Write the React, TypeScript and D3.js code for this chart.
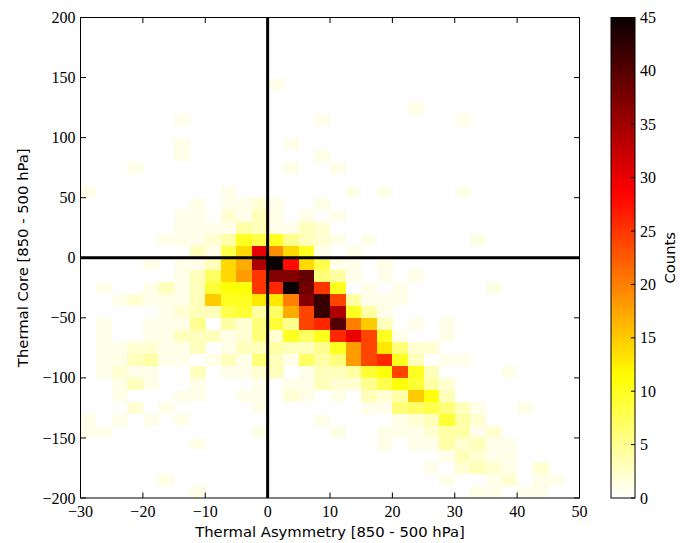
import React from "react";
import * as d3 from "d3";

// ---- data ----
const X_EDGES = d3.range(-30, 50.001, 2.5); // 33 bin edges (Thermal Asymmetry)
const Y_EDGES = d3.range(200, -200.001, -10); // 41 bin edges, top to bottom (Thermal Core)
const X_TICKS = [-30, -20, -10, 0, 10, 20, 30, 40, 50];
const Y_TICKS = [200, 150, 100, 50, 0, -50, -100, -150, -200];
const CB_TICKS = [0, 5, 10, 15, 20, 25, 30, 35, 40, 45];
const CB_MAX = 45;

// counts[row][col]; row 0 = y 200..190, col 0 = x -30..-27.5
const COUNTS: number[][] = [
  [0,0,0,0,0,0,0,0, 0,0,0,0,0,0,0,0, 0,0,0,0,0,0,0,0, 0,0,0,0,0,0,0,0],
  [0,0,0,0,0,0,0,0, 0,0,0,0,0,0,0,0, 0,0,0,0,0,0,0,0, 0,0,0,0,0,0,0,0],
  [0,0,0,0,0,0,0,0, 0,0,0,0,0,0,0,0, 0,0,0,0,0,0,0,0, 0,0,0,0,0,0,0,0],
  [0,0,0,0,0,0,0,0, 0,0,0,0,0,0,0,0, 0,0,0,0,0,0,0,0, 0,0,0,0,0,0,0,0],
  [0,0,0,0,0,0,0,0, 0,0,0,0,0,0,0,0, 0,0,0,0,0,0,0,0, 0,0,0,0,0,0,0,0],
  [0,0,0,0,0,0,0,0, 0,0,0,0,1,0,0,0, 0,0,0,0,0,0,0,0, 0,0,0,0,0,0,0,0],
  [0,0,0,0,0,0,0,0, 0,0,0,0,0,0,0,0, 0,0,0,0,0,0,0,0, 0,0,0,0,0,0,0,0],
  [0,0,0,0,0,0,0,0, 0,0,0,0,0,0,0,0, 0,0,0,0,0,1,0,0, 0,0,0,0,0,0,0,0],
  [0,0,0,0,0,0,1,0, 0,0,0,0,0,0,0,1, 0,0,0,0,0,0,0,0, 1,0,0,0,0,0,0,0],
  [0,0,0,0,0,0,0,0, 0,0,0,0,0,0,0,0, 0,0,0,0,0,0,0,0, 0,0,0,0,0,0,0,0],
  [0,0,0,0,0,0,1,0, 0,0,0,0,0,1,0,0, 0,0,0,0,0,0,0,0, 0,0,0,0,0,0,0,0],
  [0,0,0,0,0,0,1,0, 0,0,0,0,0,0,0,1, 0,0,0,0,0,0,0,0, 0,0,0,0,0,0,0,0],
  [0,0,0,1,0,0,0,0, 0,0,0,0,0,1,0,0, 1,0,0,0,0,0,0,0, 0,0,0,0,0,0,0,0],
  [0,0,0,0,0,0,0,0, 0,0,0,0,0,0,0,0, 0,0,0,0,0,0,0,0, 0,0,0,0,0,0,0,0],
  [1,0,0,0,0,0,0,0, 0,1,0,0,0,0,0,0, 0,1,0,1,0,0,0,0, 1,0,0,0,0,0,0,0],
  [0,0,0,0,0,0,0,1, 0,1,1,2,1,0,0,1, 0,0,0,0,0,0,0,0, 0,0,0,0,0,0,0,0],
  [0,0,0,0,0,0,1,1, 0,2,1,3,1,0,1,0, 1,0,0,0,0,0,0,0, 0,0,0,0,0,0,0,0],
  [0,0,0,0,0,0,1,1, 1,1,4,3,1,1,3,2, 0,0,0,0,0,0,0,0, 0,0,0,0,0,0,0,0],
  [0,0,0,0,0,1,1,1, 2,4,10,8,10,5,3,2, 1,0,1,0,0,0,0,0, 0,1,0,0,0,0,0,0],
  [0,0,0,0,0,0,0,3, 1,8,14,30,19,14,10,1, 0,1,0,0,0,0,0,0, 0,0,0,0,0,0,0,0],
  [0,0,0,0,1,0,1,1, 3,14,17,34,45,28,14,8, 1,1,0,1,0,0,0,0, 0,0,0,0,0,0,0,0],
  [0,0,0,0,0,0,1,3, 7,14,18,25,37,37,39,6, 4,1,0,1,0,1,0,0, 0,0,0,0,0,0,0,0],
  [0,1,0,0,1,3,1,3, 9,11,11,25,26,45,38,25, 10,0,1,0,1,0,0,0, 0,0,1,0,0,0,0,0],
  [0,0,1,2,1,1,1,3, 15,10,10,13,13,20,37,42, 24,4,1,1,1,0,0,0, 0,0,0,0,0,0,0,0],
  [0,0,0,0,0,1,2,3, 3,8,9,4,7,17,24,42, 34,10,4,1,0,0,0,0, 0,0,0,0,0,0,0,0],
  [0,1,0,0,1,1,1,5, 0,4,2,6,9,5,24,26, 40,20,15,3,0,1,0,1, 0,0,0,0,0,0,0,0],
  [0,1,0,0,1,1,3,3, 3,1,2,6,2,10,7,10, 26,30,24,10,1,0,0,1, 0,0,0,0,0,0,0,0],
  [0,1,1,2,2,1,1,3, 0,1,3,3,4,3,3,5, 10,18,24,13,6,2,2,0, 0,0,0,0,0,0,0,0],
  [0,1,1,3,4,1,1,0, 1,3,1,6,3,1,7,4, 6,18,24,26,10,3,0,1, 1,0,0,0,0,0,0,0],
  [0,1,2,1,1,0,0,3, 0,1,1,2,3,0,1,3, 3,4,9,11,24,10,3,0, 0,0,0,1,0,0,0,0],
  [0,0,1,3,1,0,0,1, 0,0,0,1,0,1,1,3, 2,2,5,8,11,9,4,2, 0,0,0,0,0,0,0,0],
  [0,0,1,0,0,0,1,1, 0,0,1,1,0,2,1,0, 1,0,3,2,4,15,11,3, 0,0,0,0,0,0,0,0],
  [0,0,0,2,0,1,0,0, 0,0,0,1,0,0,0,0, 0,0,1,1,6,7,8,6, 3,1,0,0,1,0,0,0],
  [1,0,1,0,1,0,1,0, 0,0,0,0,0,0,0,1, 0,0,0,0,1,2,3,9, 4,2,0,0,0,0,0,0],
  [1,1,0,0,0,0,0,0, 0,0,0,1,0,0,0,0, 1,0,0,1,1,1,2,4, 4,1,2,0,0,0,0,0],
  [0,0,0,0,0,0,0,1, 0,0,0,0,0,0,0,0, 0,0,0,1,0,1,1,4, 2,3,1,1,0,0,0,0],
  [0,0,0,0,0,0,0,0, 0,0,0,0,0,0,0,0, 0,0,0,0,0,0,0,1, 3,2,1,1,0,0,0,0],
  [0,0,0,0,0,0,0,0, 0,0,0,0,0,0,0,0, 0,0,0,0,0,0,1,0, 2,3,2,1,0,2,0,0],
  [0,0,0,0,0,1,0,0, 0,0,0,0,0,0,0,0, 0,0,0,0,0,0,0,1, 0,0,1,2,0,1,1,0],
  [0,0,0,0,0,0,0,1, 0,0,0,0,0,0,0,0, 0,0,0,0,0,0,0,0, 0,1,1,0,1,1,0,0],
];

// ---- matplotlib "hot_r" colormap ----
function hotR(t: number): string {
  const x = 1 - Math.max(0, Math.min(1, t));
  const r = x < 0.365079 ? 0.0416 + ((1 - 0.0416) * x) / 0.365079 : 1;
  const g = x < 0.365079 ? 0 : x < 0.746032 ? (x - 0.365079) / (0.746032 - 0.365079) : 1;
  const b = x < 0.746032 ? 0 : (x - 0.746032) / (1 - 0.746032);
  return d3.rgb(r * 255, g * 255, b * 255).formatHex();
}

const W = 680;
const H = 543;
const PL = 80.5, PR = 579.5, PT = 17.5, PB = 498;
const CBL = 611, CBR = 635;

const SERIF = "'Liberation Serif', 'DejaVu Serif', serif";
const SANS = "'DejaVu Sans', 'Liberation Sans', sans-serif";

const fmt = (v: number) => (v < 0 ? "\u2212" + Math.abs(v) : String(v));

export default function App() {
  const x = d3.scaleLinear().domain([-30, 50]).range([PL, PR]);
  const y = d3.scaleLinear().domain([-200, 200]).range([PB, PT]);
  const color = d3.scaleSequential(hotR).domain([0, CB_MAX]);
  const cb = d3.scaleLinear().domain([0, CB_MAX]).range([PB, PT]);

  const cells: { key: string; x: number; y: number; w: number; h: number; fill: string }[] = [];
  COUNTS.forEach((row, r) => {
    row.forEach((v, c) => {
      if (v <= 0) return;
      const x0 = x(X_EDGES[c]);
      const x1 = x(X_EDGES[c + 1]);
      const y0 = y(Y_EDGES[r]);
      const y1 = y(Y_EDGES[r + 1]);
      cells.push({ key: `${r}-${c}`, x: x0, y: y0, w: x1 - x0, h: y1 - y0, fill: color(v) as string });
    });
  });

  const stops = d3.range(0, 1.0001, 0.02);
  const tick = 5.5;

  return (
    <svg width={W} height={H} style={{ position: "absolute", left: 0, top: 0, background: "#fff" }}>
      <defs>
        <linearGradient id="cbgrad" x1="0" y1="1" x2="0" y2="0">
          {stops.map((t) => (
            <stop key={t} offset={t} stopColor={hotR(t)} />
          ))}
        </linearGradient>
      </defs>
      <rect x={0} y={0} width={W} height={H} fill="#fff" />

      {/* histogram cells */}
      <g shapeRendering="crispEdges">
        {cells.map((d) => (
          <rect key={d.key} x={d.x} y={d.y} width={d.w + 0.3} height={d.h + 0.3} fill={d.fill} />
        ))}
      </g>

      {/* zero lines */}
      <line x1={x(0)} x2={x(0)} y1={PT} y2={PB} stroke="#000" strokeWidth={3} />
      <line x1={PL} x2={PR} y1={y(0)} y2={y(0)} stroke="#000" strokeWidth={3} />

      {/* frame */}
      <rect x={PL} y={PT} width={PR - PL} height={PB - PT} fill="none" stroke="#000" strokeWidth={1} />

      {/* x ticks */}
      {X_TICKS.map((t) => (
        <g key={"xt" + t}>
          <line x1={x(t)} x2={x(t)} y1={PB} y2={PB - tick} stroke="#000" strokeWidth={1} />
          <line x1={x(t)} x2={x(t)} y1={PT} y2={PT + tick} stroke="#000" strokeWidth={1} />
          <text x={x(t)} y={PB + 19} textAnchor="middle" fontFamily={SERIF} fontSize={16} fill="#000">
            {fmt(t)}
          </text>
        </g>
      ))}
      {/* y ticks */}
      {Y_TICKS.map((t) => (
        <g key={"yt" + t}>
          <line x1={PL} x2={PL + tick} y1={y(t)} y2={y(t)} stroke="#000" strokeWidth={1} />
          <line x1={PR} x2={PR - tick} y1={y(t)} y2={y(t)} stroke="#000" strokeWidth={1} />
          <text x={PL - 5} y={y(t)} dy="0.35em" textAnchor="end" fontFamily={SERIF} fontSize={16} fill="#000">
            {fmt(t)}
          </text>
        </g>
      ))}

      {/* axis labels */}
      <text x={(PL + PR) / 2} y={537} textAnchor="middle" fontFamily={SANS} fontSize={14.8} fill="#000">
        Thermal Asymmetry [850 - 500 hPa]
      </text>
      <text
        transform={`translate(28, ${(PT + PB) / 2}) rotate(-90)`}
        textAnchor="middle"
        fontFamily={SANS}
        fontSize={14.8}
        fill="#000"
      >
        Thermal Core [850 - 500 hPa]
      </text>

      {/* colorbar */}
      <rect x={CBL} y={PT} width={CBR - CBL} height={PB - PT} fill="url(#cbgrad)" />
      <rect x={CBL} y={PT} width={CBR - CBL} height={PB - PT} fill="none" stroke="#000" strokeWidth={1} />
      {CB_TICKS.map((t) => (
        <g key={"cb" + t}>
          <line x1={CBR} x2={CBR - 4} y1={cb(t)} y2={cb(t)} stroke="#000" strokeWidth={1} />
          <text x={CBR + 5} y={cb(t)} dy="0.35em" textAnchor="start" fontFamily={SERIF} fontSize={16} fill="#000">
            {fmt(t)}
          </text>
        </g>
      ))}
      <text
        transform={`translate(675, ${(PT + PB) / 2}) rotate(-90)`}
        textAnchor="middle"
        fontFamily={SANS}
        fontSize={14.8}
        fill="#000"
      >
        Counts
      </text>
    </svg>
  );
}
